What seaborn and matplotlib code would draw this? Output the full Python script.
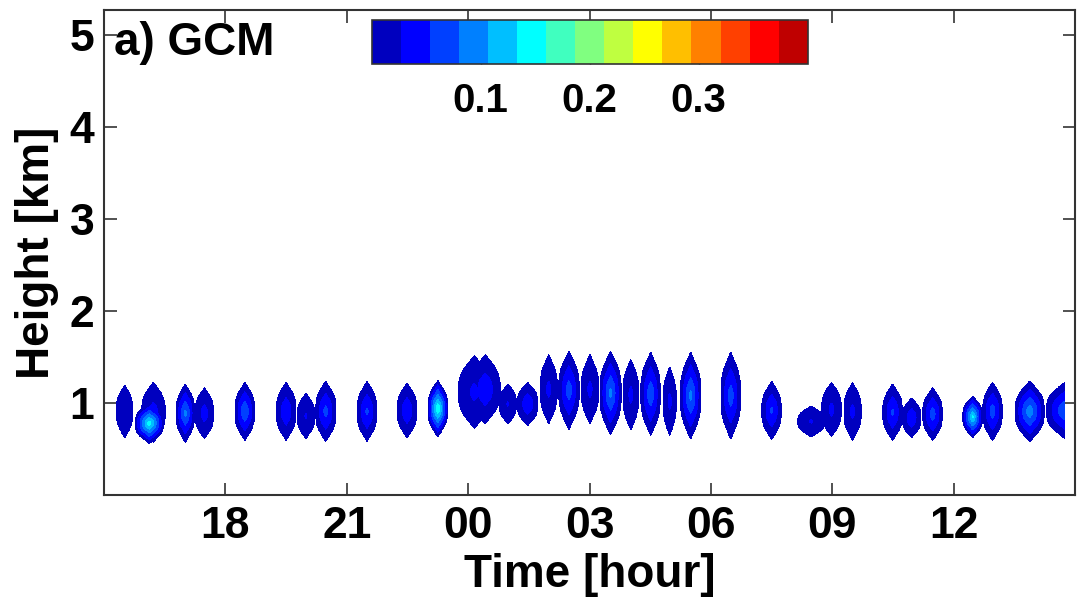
import numpy as np
import matplotlib
matplotlib.use("Agg")
import matplotlib.pyplot as plt
from matplotlib.colors import ListedColormap
import seaborn as sns

# ---- data ----
# blob centres in time (hours since 00 of day 1), height (km), half width (h),
# half depth (km) and peak cloud value
blob_time = [15.51, 16.22, 16.12, 17.01, 17.48, 18.48, 19.50, 19.99, 20.48, 21.50,
             22.49, 23.25, 24.15, 24.42, 24.98, 25.47, 25.99, 26.49, 27.01, 27.52,
             28.02, 28.51, 28.98, 29.50, 30.49, 31.50, 32.48, 32.98, 33.50, 34.49,
             34.96, 35.48, 36.47, 36.96, 37.88, 38.75]
blob_height = [0.91, 0.90, 0.78, 0.89, 0.89, 0.91, 0.91, 0.86, 0.91, 0.91,
               0.92, 0.94, 1.12, 1.15, 0.99, 0.99, 1.15, 1.14, 1.15, 1.11,
               1.09, 1.10, 1.02, 1.08, 1.08, 0.92, 0.80, 0.93, 0.91, 0.90,
               0.84, 0.88, 0.85, 0.91, 0.91, 0.92]
blob_halfwidth = [0.21, 0.30, 0.36, 0.235, 0.235, 0.25, 0.25, 0.22, 0.26, 0.25,
                  0.25, 0.25, 0.40, 0.38, 0.22, 0.26, 0.22, 0.26, 0.22, 0.27,
                  0.20, 0.25, 0.17, 0.26, 0.25, 0.25, 0.34, 0.25, 0.22, 0.25,
                  0.235, 0.25, 0.25, 0.25, 0.37, 0.47]
blob_halfdepth = [0.29, 0.33, 0.22, 0.32, 0.28, 0.32, 0.32, 0.25, 0.33, 0.33,
                  0.30, 0.31, 0.40, 0.38, 0.22, 0.24, 0.38, 0.43, 0.38, 0.46,
                  0.39, 0.46, 0.38, 0.48, 0.48, 0.32, 0.17, 0.30, 0.32, 0.31,
                  0.22, 0.29, 0.23, 0.32, 0.33, 0.31]
blob_peak = [0.025, 0.04, 0.15, 0.09, 0.04, 0.08, 0.05, 0.03, 0.065, 0.06,
             0.05, 0.16, 0.035, 0.05, 0.03, 0.05, 0.035, 0.07, 0.035, 0.09,
             0.035, 0.075, 0.035, 0.09, 0.07, 0.06, 0.03, 0.035, 0.035, 0.06,
             0.05, 0.07, 0.14, 0.07, 0.10, 0.08]

data_start, data_end = 15.0, 38.74          # hours
x_ticks = [18, 21, 24, 27, 30, 33, 36]
x_ticklabels = ["18", "21", "00", "03", "06", "09", "12"]
y_ticks = [1, 2, 3, 4, 5]
cbar_ticks = [0.1, 0.2, 0.3]
cbar_ticklabels = ["0.1", "0.2", "0.3"]
levels = np.linspace(0.0, 0.4, 16)

# MATLAB jet(15)
jet15 = [(0, 0, 0.75), (0, 0, 1), (0, 0.25, 1), (0, 0.5, 1), (0, 0.75, 1),
         (0, 1, 1), (0.25, 1, 0.75), (0.5, 1, 0.5), (0.75, 1, 0.25), (1, 1, 0),
         (1, 0.75, 0), (1, 0.5, 0), (1, 0.25, 0), (1, 0, 0), (0.75, 0, 0)]

# ---- build the field (hexagonal blobs with pointed tops/bottoms) ----
t = np.arange(data_start, data_end + 1e-9, 0.01)
z = np.arange(0.0, 2.0, 0.005)
T, Z = np.meshgrid(t, z)
F = np.full(T.shape, -1.0)
taper = 0.55
for tc, hc, a, b, pk in zip(blob_time, blob_height, blob_halfwidth, blob_halfdepth, blob_peak):
    dx = np.abs(T - tc) / a
    dy = np.abs(Z - hc) / b
    g = (dx ** 6 + (dy + taper * dx) ** 6) ** (1.0 / 6.0)
    s = 1.0 - g
    F = np.maximum(F, np.where(s > 0, pk * s, -1.0))

# ---- style ----
sns.set_style("ticks")
plt.rcParams["font.family"] = ["Liberation Sans", "DejaVu Sans"]
plt.rcParams["font.weight"] = "bold"
plt.rcParams["axes.labelweight"] = "bold"
plt.rcParams["text.color"] = "black"
plt.rcParams["axes.labelcolor"] = "black"
plt.rcParams["xtick.color"] = "black"
plt.rcParams["ytick.color"] = "black"

fig = plt.figure(figsize=(10.77, 6.03), dpi=100)
ax = fig.add_axes([0.0966, 0.179, 0.9016, 0.804])

cs = ax.contourf(T, Z, F, levels=levels, cmap=ListedColormap(jet15))

ax.set_xlim(15, 39)
ax.set_ylim(0, 5.27)
ax.set_xticks(x_ticks)
ax.set_xticklabels(x_ticklabels)
ax.set_yticks(y_ticks)
ax.tick_params(axis="both", direction="in", length=9, width=1.2, color="#333333",
               labelcolor="black", labelsize=32, top=True, right=True)
ax.tick_params(axis="x", pad=8)
ax.tick_params(axis="y", pad=7)
for sp in ax.spines.values():
    sp.set_visible(True)
    sp.set_linewidth(1.5)
    sp.set_color("#333333")

ax.set_xlabel("Time [hour]", fontsize=33, fontweight="bold", color="black")
ax.set_ylabel("Height [km]", fontsize=33, fontweight="bold", color="black")
ax.xaxis.set_label_coords(0.5, -0.12)
ax.yaxis.set_label_coords(-0.046, 0.5)

ax.text(0.0098, 0.907, "a) GCM", transform=ax.transAxes, ha="left", va="baseline",
        fontsize=33, fontweight="bold", color="black")

cax = fig.add_axes([0.345, 0.894, 0.405, 0.073])
cbar = fig.colorbar(cs, cax=cax, orientation="horizontal", ticks=cbar_ticks)
cbar.ax.set_xticklabels(cbar_ticklabels)
cbar.ax.tick_params(direction="in", length=4, width=1, top=True, bottom=True,
                    labelsize=29, pad=13, color="#333333", labelcolor="black")
cbar.outline.set_linewidth(1.2)
cbar.outline.set_edgecolor("#333333")

fig.savefig("out.png", dpi=100)
